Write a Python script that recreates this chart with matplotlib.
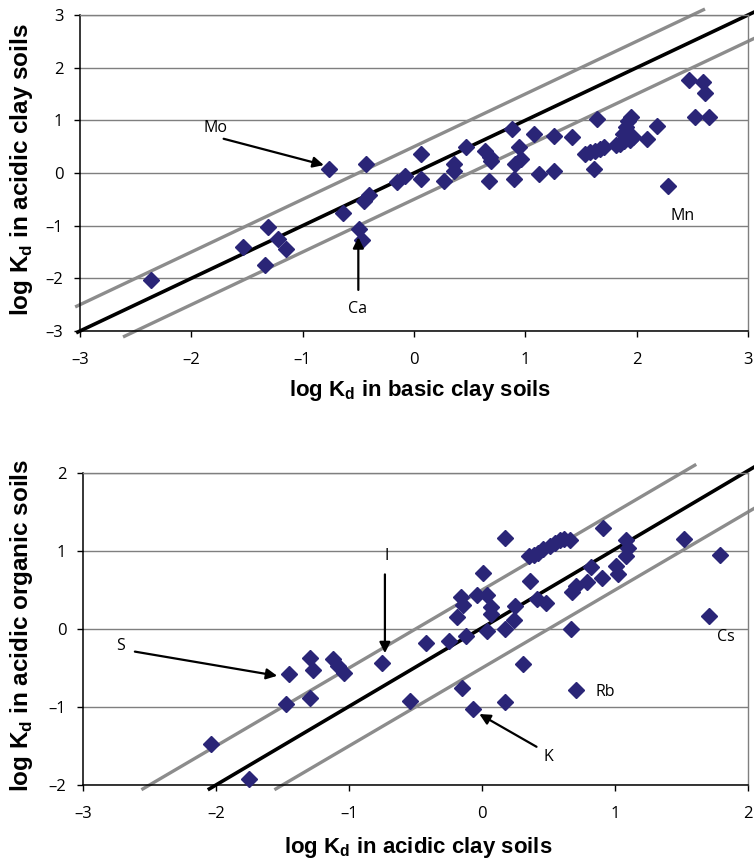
import numpy as np
import matplotlib
matplotlib.use('Agg')
import matplotlib.pyplot as plt

# top panel: basic clay (x) vs acidic clay (y)
top_x = [-2.36, -1.54, -1.31, -1.34, -1.22, -1.15, -0.76, -0.64, -0.49, -0.47,
         -0.43, -0.45, -0.40, -0.15, -0.08, 0.06, 0.06, 0.27, 0.36, 0.36,
         0.47, 0.64, 0.68, 0.69, 0.67, 0.88, 0.94, 0.96, 0.91, 0.90,
         1.08, 1.12, 1.26, 1.26, 1.42, 1.64, 1.62, 1.54, 1.58, 1.63,
         1.67, 1.71, 1.81, 1.85, 1.89, 1.94, 1.88, 1.90, 1.92, 1.95,
         1.91, 1.97, 2.09, 2.18, 2.28, 2.47, 2.60, 2.61, 2.52, 2.65]
top_y = [-2.04, -1.41, -1.03, -1.74, -1.26, -1.45, 0.07, -0.76, -1.06, -1.27,
         0.17, -0.54, -0.41, -0.18, -0.06, 0.37, -0.12, -0.15, 0.17, 0.03,
         0.50, 0.41, 0.31, 0.23, -0.15, 0.83, 0.50, 0.27, 0.17, -0.12,
         0.74, -0.02, 0.70, 0.03, 0.68, 1.02, 0.07, 0.36, 0.39, 0.42,
         0.46, 0.50, 0.53, 0.56, 0.60, 0.63, 0.75, 0.88, 0.98, 1.07,
         0.69, 0.68, 0.64, 0.89, -0.24, 1.77, 1.73, 1.52, 1.06, 1.07]

# bottom panel: acidic clay (x) vs acidic organic (y)
bot_x = [-2.04, -1.75, -1.47, -1.45, -1.29, -1.27, -1.29, -1.12, -1.08, -1.04,
         -0.75, -0.54, -0.42, -0.25, -0.15, -0.07, -0.12, -0.19, -0.16, -0.14,
         -0.04, 0.01, 0.04, 0.07, 0.07, 0.04, 0.17, 0.17, 0.17, 0.24,
         0.25, 0.31, 0.36, 0.41, 0.48, 0.35, 0.39, 0.42, 0.46, 0.51,
         0.55, 0.59, 0.62, 0.66, 0.67, 0.68, 0.71, 0.79, 0.82, 0.71,
         0.90, 0.91, 1.01, 1.02, 1.08, 1.08, 1.10, 1.52, 1.71, 1.79]
bot_y = [-1.47, -1.92, -0.96, -0.58, -0.37, -0.53, -0.88, -0.38, -0.47, -0.56,
         -0.43, -0.92, -0.18, -0.15, -0.75, -1.02, -0.09, 0.16, 0.41, 0.31,
         0.44, 0.72, 0.43, 0.28, 0.19, -0.02, 1.17, 0.00, -0.94, 0.12,
         0.30, -0.45, 0.62, 0.39, 0.33, 0.93, 0.95, 0.98, 1.03, 1.07,
         1.10, 1.14, 1.16, 1.14, 0.00, 0.48, 0.55, 0.60, 0.79, -0.78,
         0.66, 1.29, 0.81, 0.70, 0.94, 1.14, 1.04, 1.15, 0.17, 0.95]

navy = '#2a2577'
grey = '#8c8c8c'

plt.rcParams['font.family'] = ['Open Sans', 'DejaVu Sans']
plt.rcParams['mathtext.fontset'] = 'custom'
plt.rcParams['mathtext.rm'] = 'Liberation Sans'
plt.rcParams['mathtext.bf'] = 'Liberation Sans:bold'

W, H = 754, 865
fig = plt.figure(figsize=(W / 100, H / 100), dpi=100)


def px_axes(l, t, r, b):
    return fig.add_axes([l / W, 1 - b / H, (r - l) / W, (b - t) / H])


def minus(v):
    return str(v).replace('-', '\u2013')


def setup(ax, lo_x, hi_x, lo_y, hi_y):
    ax.set_xlim(lo_x, hi_x)
    ax.set_ylim(lo_y, hi_y)
    ax.set_xticks(range(lo_x, hi_x + 1))
    ax.set_yticks(range(lo_y, hi_y + 1))
    ax.set_xticklabels([minus(v) for v in range(lo_x, hi_x + 1)])
    ax.set_yticklabels([minus(v) for v in range(lo_y, hi_y + 1)])
    ax.yaxis.grid(True, color='#7f7f7f', lw=1)
    ax.set_axisbelow(True)
    for s in ['top', 'right']:
        ax.spines[s].set_color('#7f7f7f')
        ax.spines[s].set_linewidth(1)
    for s in ['left', 'bottom']:
        ax.spines[s].set_color('black')
        ax.spines[s].set_linewidth(1.1)
    ax.tick_params(direction='out', length=4, width=1, labelsize=12)
    ax.tick_params(axis='x', pad=11)
    ax.tick_params(axis='y', pad=8)


arrow = dict(arrowstyle='-|>', color='black', lw=1.6, mutation_scale=16, shrinkA=0, shrinkB=0)
note = dict(fontsize=11.5)

# ---- top panel
ax1 = px_axes(80, 15, 748, 331)
setup(ax1, -3, 3, -3, 3)
ax1.plot([-3.03, 2.6], [-2.53, 3.1], color=grey, lw=2.4, clip_on=False, zorder=2)
ax1.plot([-2.6, 3.05], [-3.1, 2.55], color=grey, lw=2.4, clip_on=False, zorder=2)
ax1.plot([-3.02, 3.05], [-3.02, 3.05], color='black', lw=2.6, clip_on=False, zorder=2)
ax1.plot(top_x, top_y, 'D', color=navy, ms=8, zorder=3, clip_on=False)
ax1.annotate('', xy=(-0.81, 0.15), xytext=(-1.71, 0.65), arrowprops=arrow)
ax1.text(-1.78, 0.86, 'Mo', ha='center', va='center', **note)
ax1.annotate('', xy=(-0.50, -1.22), xytext=(-0.50, -2.22), arrowprops=arrow)
ax1.text(-0.51, -2.58, 'Ca', ha='center', va='center', **note)
ax1.text(2.41, -0.82, 'Mn', ha='center', va='center', **note)

# ---- bottom panel
ax2 = px_axes(83, 473, 748, 785)
setup(ax2, -3, 2, -2, 2)
ax2.plot([-2.55, 1.6], [-2.05, 2.1], color=grey, lw=2.4, clip_on=False, zorder=2)
ax2.plot([-1.55, 2.05], [-2.05, 1.55], color=grey, lw=2.4, clip_on=False, zorder=2)
ax2.plot([-2.05, 2.05], [-2.05, 2.08], color='black', lw=2.6, clip_on=False, zorder=2)
ax2.plot(bot_x, bot_y, 'D', color=navy, ms=8, zorder=3, clip_on=False)
ax2.annotate('', xy=(-0.73, -0.31), xytext=(-0.73, 0.70), arrowprops=arrow)
ax2.text(-0.72, 0.94, 'I', ha='center', va='center', **note)
ax2.annotate('', xy=(-1.54, -0.60), xytext=(-2.61, -0.29), arrowprops=arrow)
ax2.text(-2.72, -0.22, 'S', ha='center', va='center', **note)
ax2.annotate('', xy=(-0.02, -1.09), xytext=(0.41, -1.51), arrowprops=arrow)
ax2.text(0.50, -1.64, 'K', ha='center', va='center', **note)
ax2.text(0.93, -0.81, 'Rb', ha='center', va='center', **note)
ax2.text(1.83, -0.10, 'Cs', ha='center', va='center', **note)

xlab = dict(fontsize=16, fontweight='bold', ha='center', va='center', family='Liberation Sans')
ylab = dict(xlab, fontsize=17.5, rotation=90)
fig.text(420 / W, 1 - 391 / H, r'log K$_\mathbf{d}$ in basic clay soils', **xlab)
fig.text(22 / W, 1 - 170 / H, r'log K$_\mathbf{d}$ in acidic clay soils', **ylab)
fig.text(418 / W, 1 - 848 / H, r'log K$_\mathbf{d}$ in acidic clay soils', **xlab)
fig.text(22 / W, 1 - 625 / H, r'log K$_\mathbf{d}$ in acidic organic soils', **ylab)

fig.savefig('out.png', dpi=100)
